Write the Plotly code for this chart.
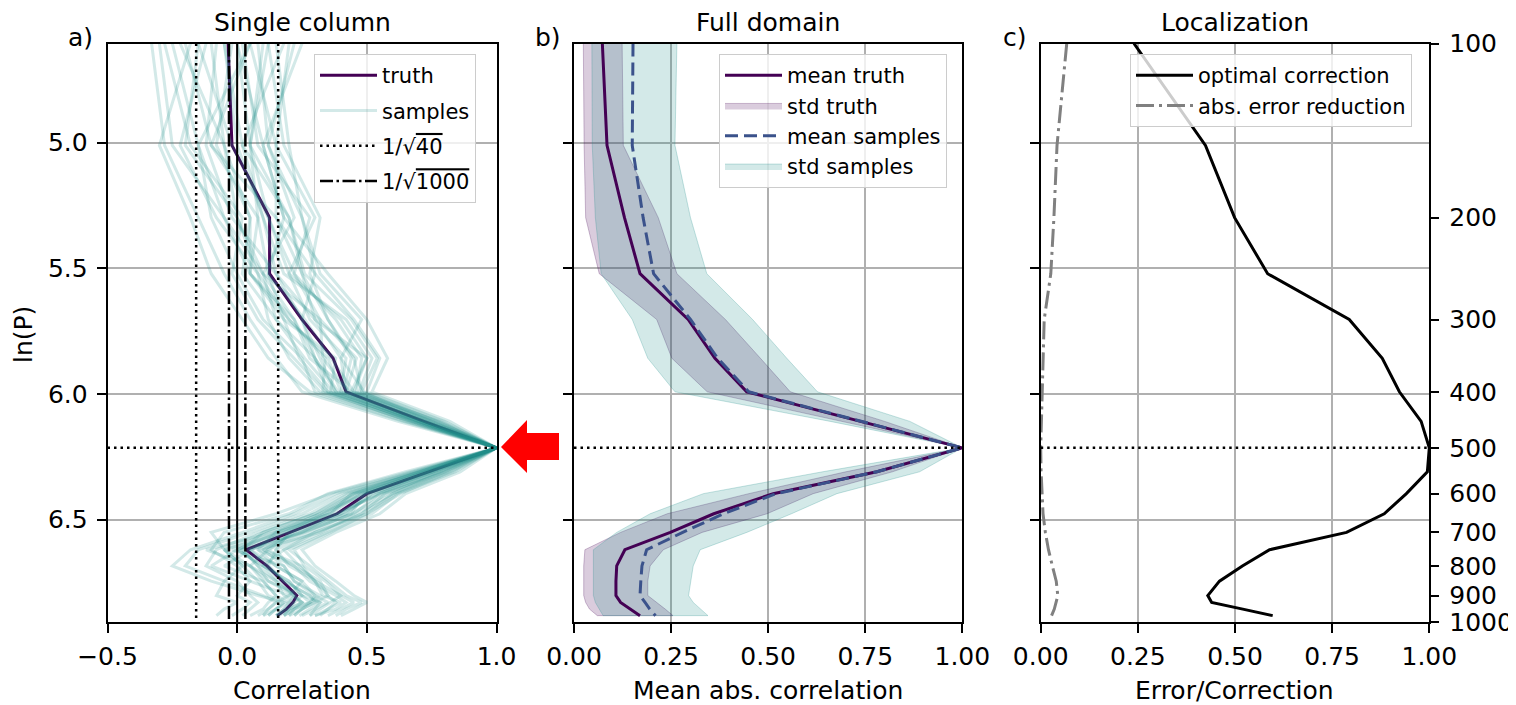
import numpy as np
import plotly.graph_objects as go

# ---------------- data ----------------
levels = [100, 150, 200, 250, 300, 350, 400, 450, 500, 550, 600, 650, 700, 750, 800, 850, 900, 925, 950, 975]

# panel a: single column correlation with 500 hPa
truth = [-0.035, -0.02, 0.125, 0.125, 0.25, 0.37, 0.42, 0.72, 1.0, 0.74, 0.50, 0.385, 0.205, 0.035, 0.115, 0.175, 0.23, 0.215, 0.19, 0.155]
samples = [
    [-0.30, -0.25, -0.05, 0.05, 0.20, 0.35, 0.40, 0.70, 1.0, 0.75, 0.50, 0.40, 0.15, 0.00, 0.10, 0.20, 0.25, 0.22, 0.18, 0.15],
    [0.10, 0.05, 0.20, 0.25, 0.35, 0.45, 0.48, 0.75, 1.0, 0.78, 0.55, 0.45, 0.25, 0.05, 0.15, 0.25, 0.30, 0.28, 0.22, 0.18],
    [-0.15, -0.20, 0.00, 0.10, 0.15, 0.30, 0.35, 0.68, 1.0, 0.70, 0.45, 0.30, 0.10, -0.05, 0.05, 0.10, 0.15, 0.12, 0.10, 0.05],
    [0.20, 0.15, 0.30, 0.20, 0.40, 0.50, 0.45, 0.78, 1.0, 0.80, 0.60, 0.50, 0.30, 0.15, 0.20, 0.30, 0.40, 0.45, 0.40, 0.35],
    [-0.05, 0.00, 0.10, 0.15, 0.30, 0.40, 0.42, 0.72, 1.0, 0.72, 0.48, 0.35, 0.20, 0.00, -0.10, 0.05, 0.20, 0.25, 0.22, 0.20],
    [0.05, -0.10, 0.15, 0.30, 0.25, 0.32, 0.38, 0.70, 1.0, 0.76, 0.52, 0.42, 0.22, 0.10, 0.25, 0.30, 0.35, 0.30, 0.25, 0.22],
    [-0.25, -0.15, -0.10, 0.00, 0.10, 0.25, 0.30, 0.65, 1.0, 0.68, 0.40, 0.25, 0.05, -0.15, -0.20, -0.05, 0.10, 0.15, 0.12, 0.08],
    [0.15, 0.20, 0.25, 0.30, 0.45, 0.55, 0.50, 0.80, 1.0, 0.84, 0.62, 0.52, 0.35, 0.20, 0.28, 0.35, 0.42, 0.48, 0.42, 0.38],
    [-0.10, -0.05, 0.05, 0.05, 0.22, 0.28, 0.44, 0.74, 1.0, 0.73, 0.46, 0.33, 0.18, 0.05, 0.12, 0.18, 0.28, 0.30, 0.25, 0.20],
    [0.00, 0.05, 0.12, 0.20, 0.28, 0.42, 0.40, 0.71, 1.0, 0.74, 0.55, 0.38, 0.25, 0.02, 0.08, 0.12, 0.22, 0.20, 0.15, 0.12],
    [-0.33, -0.28, -0.15, -0.05, 0.05, 0.15, 0.25, 0.62, 1.0, 0.65, 0.35, 0.20, -0.05, -0.10, 0.00, 0.05, 0.00, 0.05, 0.02, -0.02],
    [0.25, 0.10, 0.18, 0.35, 0.50, 0.58, 0.52, 0.82, 1.0, 0.86, 0.65, 0.55, 0.38, 0.25, 0.30, 0.38, 0.45, 0.50, 0.45, 0.40],
    [-0.20, -0.10, 0.08, 0.12, 0.18, 0.38, 0.36, 0.69, 1.0, 0.71, 0.44, 0.36, 0.12, -0.02, 0.18, 0.22, 0.32, 0.28, 0.25, 0.22],
    [0.08, 0.12, 0.22, 0.10, 0.32, 0.33, 0.43, 0.73, 1.0, 0.77, 0.58, 0.44, 0.28, 0.12, 0.05, 0.15, 0.18, 0.22, 0.20, 0.15],
    [-0.12, -0.22, -0.08, 0.08, 0.12, 0.20, 0.32, 0.67, 1.0, 0.69, 0.42, 0.28, 0.08, -0.08, -0.12, 0.00, 0.05, 0.08, 0.05, 0.02],
    [0.02, 0.08, 0.28, 0.22, 0.38, 0.48, 0.46, 0.76, 1.0, 0.79, 0.60, 0.46, 0.32, 0.08, 0.22, 0.28, 0.38, 0.42, 0.38, 0.30],
    [-0.28, -0.18, 0.02, -0.02, 0.08, 0.22, 0.34, 0.66, 1.0, 0.70, 0.38, 0.22, 0.02, -0.18, -0.25, -0.10, 0.08, 0.18, 0.15, 0.10],
    [0.18, 0.02, 0.10, 0.18, 0.42, 0.52, 0.47, 0.77, 1.0, 0.81, 0.57, 0.48, 0.30, 0.18, 0.10, 0.20, 0.25, 0.32, 0.30, 0.28],
    [-0.08, -0.12, -0.02, 0.15, 0.25, 0.30, 0.39, 0.70, 1.0, 0.75, 0.50, 0.32, 0.15, 0.08, 0.15, 0.25, 0.20, 0.15, 0.12, 0.10],
    [0.12, 0.18, 0.32, 0.28, 0.35, 0.44, 0.41, 0.72, 1.0, 0.78, 0.54, 0.40, 0.22, 0.12, 0.22, 0.32, 0.35, 0.38, 0.35, 0.32],
    [-0.18, -0.30, -0.18, -0.10, 0.02, 0.12, 0.28, 0.64, 1.0, 0.66, 0.36, 0.15, -0.10, -0.05, 0.02, -0.05, -0.08, 0.00, -0.05, -0.08],
    [0.05, 0.15, 0.15, 0.25, 0.30, 0.50, 0.44, 0.75, 1.0, 0.76, 0.52, 0.42, 0.25, 0.10, 0.18, 0.22, 0.30, 0.35, 0.30, 0.25],
    [-0.02, -0.08, 0.05, 0.02, 0.15, 0.26, 0.37, 0.68, 1.0, 0.72, 0.47, 0.34, 0.18, -0.05, 0.02, 0.08, 0.12, 0.18, 0.15, 0.12],
    [0.22, 0.12, 0.25, 0.32, 0.48, 0.40, 0.49, 0.79, 1.0, 0.82, 0.63, 0.50, 0.36, 0.22, 0.26, 0.34, 0.40, 0.36, 0.32, 0.28],
    [-0.22, -0.05, 0.00, 0.08, 0.20, 0.34, 0.33, 0.67, 1.0, 0.70, 0.43, 0.30, 0.10, 0.02, 0.08, 0.15, 0.22, 0.25, 0.20, 0.18],
    [0.00, 0.10, 0.18, 0.12, 0.26, 0.36, 0.45, 0.74, 1.0, 0.80, 0.56, 0.38, 0.20, 0.15, 0.12, 0.18, 0.28, 0.32, 0.28, 0.24],
    [-0.15, -0.02, 0.12, 0.22, 0.32, 0.46, 0.42, 0.73, 1.0, 0.74, 0.49, 0.44, 0.26, 0.05, -0.05, 0.10, 0.15, 0.20, 0.18, 0.15],
    [0.12, 0.05, 0.08, 0.05, 0.18, 0.24, 0.35, 0.69, 1.0, 0.71, 0.45, 0.32, 0.14, -0.12, 0.05, 0.12, 0.25, 0.28, 0.22, 0.18],
    [-0.05, 0.02, 0.20, 0.26, 0.44, 0.54, 0.48, 0.77, 1.0, 0.83, 0.61, 0.48, 0.33, 0.18, 0.24, 0.30, 0.33, 0.40, 0.35, 0.30],
    [0.05, -0.15, -0.05, 0.10, 0.22, 0.30, 0.38, 0.70, 1.0, 0.73, 0.48, 0.36, 0.16, 0.00, 0.10, 0.16, 0.22, 0.25, 0.20, 0.16],
]
n_small = 40
n_large = 1000

# panel b: full domain mean abs. correlation
mean_truth = [0.073, 0.085, 0.13, 0.17, 0.294, 0.363, 0.445, 0.74, 1.0, 0.78, 0.513, 0.36, 0.248, 0.131, 0.11, 0.108, 0.108, 0.12, 0.145, 0.17]
std_truth_lo = [0.024, 0.026, 0.030, 0.065, 0.213, 0.252, 0.343, 0.69, 1.0, 0.70, 0.45, 0.24, 0.12, 0.028, 0.025, 0.025, 0.025, 0.03, 0.04, 0.06]
std_truth_hi = [0.124, 0.127, 0.217, 0.265, 0.39, 0.48, 0.557, 0.80, 1.0, 0.82, 0.616, 0.497, 0.33, 0.23, 0.196, 0.19, 0.19, 0.213, 0.235, 0.255]
mean_samples = [0.152, 0.15, 0.178, 0.205, 0.30, 0.37, 0.45, 0.74, 1.0, 0.78, 0.52, 0.385, 0.28, 0.187, 0.175, 0.172, 0.17, 0.183, 0.195, 0.21]
std_samples_lo = [0.046, 0.047, 0.055, 0.07, 0.15, 0.19, 0.26, 0.66, 1.0, 0.64, 0.333, 0.196, 0.11, 0.05, 0.05, 0.05, 0.05, 0.055, 0.065, 0.075]
std_samples_hi = [0.265, 0.26, 0.30, 0.342, 0.46, 0.548, 0.627, 0.865, 1.0, 0.89, 0.677, 0.56, 0.445, 0.325, 0.307, 0.30, 0.295, 0.307, 0.325, 0.345]

# panel c: localization
optimal_correction = [0.24, 0.424, 0.499, 0.584, 0.794, 0.879, 0.923, 0.979, 1.0, 0.995, 0.941, 0.884, 0.787, 0.589, 0.519, 0.46, 0.43, 0.44, 0.52, 0.597]
abs_error_reduction = [0.067, 0.042, 0.034, 0.026, 0.009, 0.006, 0.004, 0.002, 0.0, 0.001, 0.003, 0.006, 0.012, 0.02, 0.03, 0.04, 0.044, 0.04, 0.035, 0.028]

pressure_ticks = [100, 200, 300, 400, 500, 600, 700, 800, 900, 1000]
lnp_ticks = [5.0, 5.5, 6.0, 6.5]
ref_level = 500

# ---------------- figure ----------------
W, H = 1516, 705
OFF = 8  # page body margin
FONT = "DejaVu Sans"
FS = 25
lnp = np.log(levels)
ytop, ybot = np.log(100), np.log(1000)

PURPLE = "#440154"
TEAL_A = "rgba(33,145,140,0.2)"
BLUE = "#3b528b"
DOT = "2.5px,4px"


def pxx(x):
    return (x - OFF) / W


def pxy(y):
    return 1 - (y - OFF) / H


fig = go.Figure()

# ---- panel a ----
fig.add_trace(go.Scatter(x=truth, y=lnp, mode="lines", name="truth",
                         line=dict(color=PURPLE, width=3), legend="legend",
                         legendgroup="a1", xaxis="x", yaxis="y"))
for i, s in enumerate(samples):
    fig.add_trace(go.Scatter(x=s, y=lnp, mode="lines", name="samples",
                             line=dict(color=TEAL_A, width=3), legend="legend",
                             legendgroup="a2", showlegend=(i == 0), xaxis="x", yaxis="y"))
c40 = 1 / np.sqrt(n_small)
c1000 = 1 / np.sqrt(n_large)
fig.add_trace(go.Scatter(x=[-c40, -c40, None, c40, c40], y=[ytop, ybot, None, ytop, ybot],
                         mode="lines", name="1/√<span style='text-decoration:overline'>40</span>",
                         line=dict(color="black", width=2.5, dash=DOT),
                         legend="legend", legendgroup="a3", xaxis="x", yaxis="y"))
fig.add_trace(go.Scatter(x=[-c1000, -c1000, None, c1000, c1000], y=[ytop, ybot, None, ytop, ybot],
                         mode="lines", name="1/√<span style='text-decoration:overline'>1000</span>",
                         line=dict(color="black", width=2.5, dash="13px,3.5px,2.5px,3.5px"),
                         legend="legend", legendgroup="a4", xaxis="x", yaxis="y"))
fig.add_trace(go.Scatter(x=[0, 0], y=[ytop, ybot], mode="lines", showlegend=False,
                         line=dict(color="black", width=2), xaxis="x", yaxis="y"))

# ---- panel b ----
fig.add_trace(go.Scatter(x=std_truth_lo + std_truth_hi[::-1], y=list(lnp) + list(lnp[::-1]),
                         fill="toself", fillcolor="rgba(68,1,84,0.2)", mode="lines",
                         line=dict(color="rgba(68,1,84,0.25)", width=1),
                         name="std truth", legend="legend2", legendrank=2,
                         xaxis="x2", yaxis="y2"))
fig.add_trace(go.Scatter(x=std_samples_lo + std_samples_hi[::-1], y=list(lnp) + list(lnp[::-1]),
                         fill="toself", fillcolor="rgba(33,145,140,0.2)", mode="lines",
                         line=dict(color="rgba(33,145,140,0.25)", width=1),
                         name="std samples", legend="legend2", legendrank=4,
                         xaxis="x2", yaxis="y2"))
fig.add_trace(go.Scatter(x=mean_truth, y=lnp, mode="lines", name="mean truth",
                         line=dict(color=PURPLE, width=3), legend="legend2", legendrank=1,
                         xaxis="x2", yaxis="y2"))
fig.add_trace(go.Scatter(x=mean_samples, y=lnp, mode="lines", name="mean samples",
                         line=dict(color=BLUE, width=3, dash="13px,6px"),
                         legend="legend2", legendrank=3, xaxis="x2", yaxis="y2"))

# ---- panel c ----
fig.add_trace(go.Scatter(x=optimal_correction, y=lnp, mode="lines", name="optimal correction",
                         line=dict(color="black", width=3), legend="legend3",
                         xaxis="x3", yaxis="y3"))
fig.add_trace(go.Scatter(x=abs_error_reduction, y=lnp, mode="lines", name="abs. error reduction",
                         line=dict(color="gray", width=3, dash="18px,5px,3px,5px"),
                         legend="legend3", xaxis="x3", yaxis="y3"))
fig.add_trace(go.Scatter(x=[None], y=[None], showlegend=False, xaxis="x3", yaxis="y4",
                         hoverinfo="skip"))

# ---------------- layout ----------------
ydom = [pxy(622), pxy(43.5)]
xdoms = [[pxx(107.5), pxx(496.5)], [pxx(574), pxx(962.3)], [pxx(1040.7), pxx(1429.3)]]

axis_common = dict(showline=True, linecolor="black", linewidth=1.7, mirror=True,
                   ticks="outside", ticklen=9, tickwidth=1.7, tickcolor="black",
                   showgrid=True, gridcolor="#b0b0b0", gridwidth=1.6, zeroline=False,
                   tickfont=dict(family=FONT, size=FS, color="black"))

layout = dict(width=W, height=H, margin=dict(l=0, r=0, t=0, b=0),
              paper_bgcolor="white", plot_bgcolor="white",
              font=dict(family=FONT, color="black"), template="none")

layout["xaxis"] = dict(axis_common, domain=xdoms[0], anchor="y", range=[-0.5, 1.0],
                       tickvals=[-0.5, 0.0, 0.5, 1.0], tickformat=".1f", ticklabelstandoff=2)
layout["xaxis2"] = dict(axis_common, domain=xdoms[1], anchor="y2", range=[0, 1],
                        tickvals=[0, 0.25, 0.5, 0.75, 1.0], tickformat=".2f", ticklabelstandoff=2)
layout["xaxis3"] = dict(axis_common, domain=xdoms[2], anchor="y3", range=[0, 1],
                        tickvals=[0, 0.25, 0.5, 0.75, 1.0], tickformat=".2f", ticklabelstandoff=2)
layout["yaxis"] = dict(axis_common, domain=ydom, anchor="x", range=[ybot, ytop],
                       tickvals=lnp_ticks, tickformat=".1f", ticklabelstandoff=4)
layout["yaxis2"] = dict(axis_common, domain=ydom, anchor="x2", range=[ybot, ytop],
                        tickvals=lnp_ticks, showticklabels=False)
layout["yaxis3"] = dict(axis_common, domain=ydom, anchor="x3", range=[ybot, ytop],
                        tickvals=lnp_ticks, showticklabels=False)
layout["yaxis4"] = dict(overlaying="y3", side="right", anchor="x3", range=[ybot, ytop],
                        tickvals=list(np.log(pressure_ticks)),
                        ticktext=[str(p) for p in pressure_ticks],
                        showgrid=False, zeroline=False, showline=False,
                        ticks="outside", ticklen=9, tickwidth=1.7, tickcolor="black",
                        tickfont=dict(family=FONT, size=FS, color="black"),
                        ticklabelstandoff=5)

leg_common = dict(xanchor="left", yanchor="top", bgcolor="rgba(255,255,255,0.8)",
                  bordercolor="#cccccc", borderwidth=1, itemwidth=57,
                  font=dict(family=FONT, size=21, color="black"))
layout["legend"] = dict(leg_common, x=pxx(314), y=pxy(54), tracegroupgap=5)
layout["legend2"] = dict(leg_common, x=pxx(719), y=pxy(54), tracegroupgap=0)
layout["legend3"] = dict(leg_common, x=pxx(1130), y=pxy(54), tracegroupgap=0)

fig.update_layout(**layout)

# horizontal dotted reference lines at 500 hPa
for xr, yr in [("x", "y"), ("x2", "y2"), ("x3", "y3")]:
    fig.add_shape(type="line", xref=f"{xr} domain", yref=yr, x0=0, x1=1,
                  y0=np.log(ref_level), y1=np.log(ref_level),
                  line=dict(color="black", width=2.5, dash=DOT))

# red arrow
pts = [(501, 447), (527, 420), (527, 433), (559, 433), (559, 460), (527, 460), (527, 473)]
path = "M " + " L ".join(f"{pxx(a):.5f},{pxy(b):.5f}" for a, b in pts) + " Z"
fig.add_shape(type="path", xref="paper", yref="paper", path=path,
              fillcolor="red", line=dict(color="red", width=0))

# texts
titles = ["Single column", "Full domain", "Localization"]
xlabels = ["Correlation", "Mean abs. correlation", "Error/Correction"]
letters = ["a)", "b)", "c)"]
letter_x = [80, 548, 1015]
for i in range(3):
    xc = (xdoms[i][0] + xdoms[i][1]) / 2
    fig.add_annotation(text=titles[i], x=xc, y=pxy(22), xref="paper", yref="paper",
                       showarrow=False, xanchor="center", yanchor="middle",
                       font=dict(family=FONT, size=FS, color="black"))
    fig.add_annotation(text=xlabels[i], x=xc, y=pxy(690), xref="paper", yref="paper",
                       showarrow=False, xanchor="center", yanchor="middle",
                       font=dict(family=FONT, size=FS, color="black"))
    fig.add_annotation(text=letters[i], x=pxx(letter_x[i]), y=pxy(38), xref="paper", yref="paper",
                       showarrow=False, xanchor="center", yanchor="middle",
                       font=dict(family=FONT, size=FS, color="black"))
fig.add_annotation(text="ln(P)", x=pxx(23), y=pxy(335), xref="paper", yref="paper",
                   showarrow=False, textangle=-90, xanchor="center", yanchor="middle",
                   font=dict(family=FONT, size=FS, color="black"))

fig.write_html("out.html")
